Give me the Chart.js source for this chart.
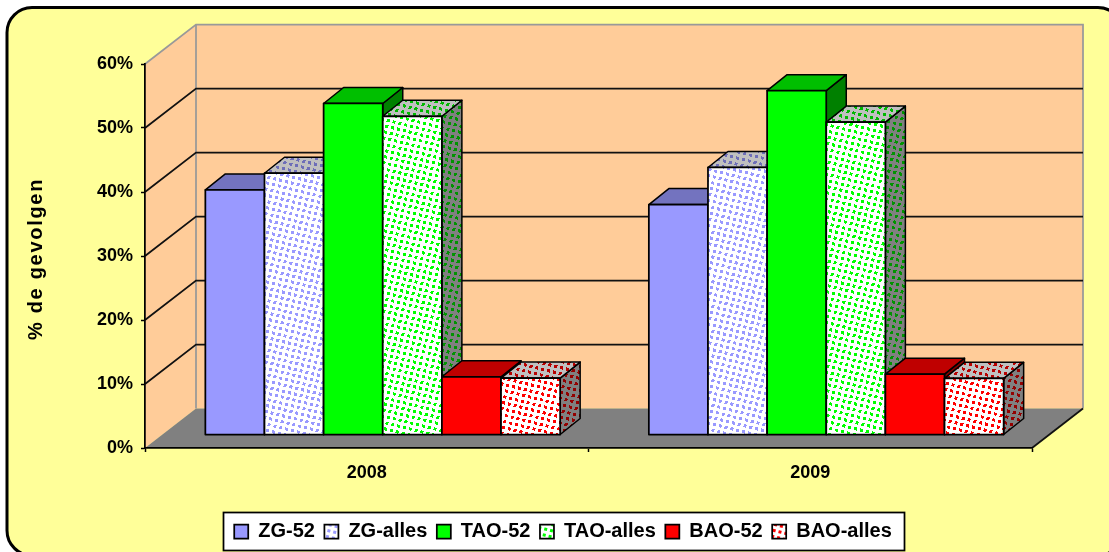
<!DOCTYPE html>
<html>
<head>
<meta charset="utf-8">
<title>% de gevolgen</title>
<style>
html,body{margin:0;padding:0;background:#fff;}
canvas{display:block;filter:blur(0.35px);}
</style>
<script src="https://cdn.jsdelivr.net/npm/chart.js@4"></script>
</head>
<body>
<canvas id="c" width="1109" height="552"></canvas>
<script>
const categories = ['2008', '2009'];
const zg52 = [38.3, 36.0];
const zgAlles = [40.9, 41.8];
const tao52 = [51.8, 53.8];
const taoAlles = [49.8, 48.9];
const bao52 = [9.1, 9.5];
const baoAlles = [8.9, 8.85];
const yMax = 60;
const yStep = 10;

const FONT = "'Liberation Sans', Arial, sans-serif";
const wallD = {x: 51, y: 39.5};   // depth of the walls
const barOff = {x: 16, y: 13};    // bars stand this far behind the front plane
const barD = {x: 20, y: 16};      // depth of a bar

function shade(rgb, f){ return `rgb(${rgb.map(v => Math.round(v * f)).join(',')})`; }
function dots(bg, fg){
  const n = 6;
  const t = document.createElement('canvas');
  t.width = n; t.height = n;
  const g = t.getContext('2d');
  g.fillStyle = bg; g.fillRect(0, 0, n, n);
  g.fillStyle = fg; g.fillRect(2, 2, 3, 3);
  const p = g.createPattern(t, 'repeat');
  p.setTransform(new DOMMatrix().rotate(14));
  return p;
}
function makeStyle(rgb, dotted){
  if (!dotted) return {front: shade(rgb, 1), top: shade(rgb, .75), side: shade(rgb, .5)};
  return {
    front: dots('#fff', shade(rgb, 1)),
    top: dots('#c0c0c0', shade(rgb, .72)),
    side: dots('#808080', shade(rgb, .58))
  };
}
const blue = [153, 153, 255], green = [0, 255, 0], red = [255, 0, 0];
const series = [
  {label: 'ZG-52', data: zg52, s: makeStyle(blue, false)},
  {label: 'ZG-alles', data: zgAlles, s: makeStyle(blue, true)},
  {label: 'TAO-52', data: tao52, s: makeStyle(green, false)},
  {label: 'TAO-alles', data: taoAlles, s: makeStyle(green, true)},
  {label: 'BAO-52', data: bao52, s: makeStyle(red, false)},
  {label: 'BAO-alles', data: baoAlles, s: makeStyle(red, true)}
];

function poly(ctx, pts, fill, stroke, lw){
  ctx.beginPath();
  pts.forEach((p, i) => i ? ctx.lineTo(p[0], p[1]) : ctx.moveTo(p[0], p[1]));
  ctx.closePath();
  if (fill){ ctx.imageSmoothingEnabled = false; ctx.fillStyle = fill; ctx.fill(); }
  if (stroke){ ctx.strokeStyle = stroke; ctx.lineWidth = lw; ctx.lineJoin = 'round'; ctx.stroke(); }
}
function line(ctx, pts, stroke, lw){
  ctx.beginPath();
  pts.forEach((p, i) => i ? ctx.lineTo(p[0], p[1]) : ctx.moveTo(p[0], p[1]));
  ctx.strokeStyle = stroke; ctx.lineWidth = lw; ctx.stroke();
}

const scene = {
  id: 'scene',
  afterLayout(chart){
    const l = chart.legend;
    const dx = 563 - (l.left + l.right) / 2;
    l.left += dx; l.right += dx;
    const dy = 512 - l.top;
    l.top += dy; l.bottom += dy;
    // the axis title is set slightly wider and lower than the library's default
    const ys = chart.scales.y;
    if (!ys._wideTitle){
      const orig = ys.drawTitle;
      ys.drawTitle = function(){
        const c = this.ctx;
        c.save();
        c.letterSpacing = '1.7px';
        c.translate(0, 3);
        orig.call(this);
        c.restore();
      };
      ys._wideTitle = true;
    }
  },
  beforeDraw(chart){
    const ctx = chart.ctx, W = chart.width, H = chart.height;
    const a = chart.chartArea, ys = chart.scales.y;
    ctx.save();
    ctx.fillStyle = '#fff'; ctx.fillRect(0, 0, W, H);
    ctx.beginPath(); ctx.roundRect(7, 7.5, 1116, 548, 25);
    ctx.fillStyle = '#FFFF99'; ctx.fill();
    ctx.strokeStyle = '#000'; ctx.lineWidth = 3; ctx.stroke();

    const L = a.left, R = a.right, T = ys.getPixelForValue(yMax), B = ys.getPixelForValue(0);
    const X = L + wallD.x, Xr = R + wallD.x;
    poly(ctx, [[X, T - wallD.y], [Xr, T - wallD.y], [Xr, B - wallD.y], [X, B - wallD.y]], '#FFCC99');
    poly(ctx, [[L, T], [X, T - wallD.y], [X, B - wallD.y], [L, B]], '#FFCC99');
    poly(ctx, [[L, B], [X, B - wallD.y], [Xr, B - wallD.y], [R, B]], '#808080');
    line(ctx, [[L, T], [X, T - wallD.y], [Xr, T - wallD.y], [Xr, B - wallD.y]], '#999', 1.75);
    line(ctx, [[X, T - wallD.y], [X, B - wallD.y]], '#999', 1.75);
    line(ctx, [[R, B], [Xr, B - wallD.y]], '#111', 1.75);
    ys.ticks.forEach(t => {
      if (t.value <= 0 || t.value >= yMax) return;
      const y = ys.getPixelForValue(t.value);
      line(ctx, [[L, y], [X, y - wallD.y], [Xr, y - wallD.y]], '#111', 1.75);
    });
    ctx.fillStyle = '#fff'; ctx.fillRect(223.5, 512.5, 681, 38);
    ctx.strokeStyle = '#000'; ctx.lineWidth = 1.75; ctx.strokeRect(223.5, 512.5, 681, 38);
    ctx.restore();
  },
  beforeDatasetsDraw(chart){
    chart.ctx.save();
    chart.ctx.translate(barOff.x, -barOff.y);
  },
  afterDatasetsDraw(chart){
    const ctx = chart.ctx;
    // painter's order: left to right, so each bar hides its neighbour's side face
    series.forEach((d, i) => {
      const s = d.s;
      chart.getDatasetMeta(i).data.forEach(el => {
        const {x, y, base, width} = el.getProps(['x', 'y', 'base', 'width'], true);
        const l = x - width / 2, r = x + width / 2;
        poly(ctx, [[r, y], [r + barD.x, y - barD.y], [r + barD.x, base - barD.y], [r, base]], s.side, '#000', 1.5);
        poly(ctx, [[l, y], [l + barD.x, y - barD.y], [r + barD.x, y - barD.y], [r, y]], s.top, '#000', 1.5);
        poly(ctx, [[l, y], [r, y], [r, base], [l, base]], s.front, '#000', 1.75);
      });
    });
    ctx.restore();
  }
};

new Chart(document.getElementById('c'), {
  type: 'bar',
  data: {
    labels: categories,
    datasets: series.map(d => ({
      label: d.label,
      data: d.data,
      backgroundColor: d.s.front,
      borderWidth: 0,
      barPercentage: 1,
      categoryPercentage: 0.8,
      clip: false
    }))
  },
  plugins: [scene],
  options: {
    responsive: false,
    animation: false,
    devicePixelRatio: 1,
    layout: {padding: {left: 0, top: 64, right: 77, bottom: 0}},
    plugins: {
      tooltip: {enabled: false},
      legend: {
        position: 'bottom',
        labels: {
          font: {family: FONT, size: 20, weight: 'bold'},
          color: '#000',
          boxWidth: 14,
          boxHeight: 14,
          padding: 9.5,
          generateLabels(chart){
            return chart.data.datasets.map((d, i) => ({
              text: d.label, fillStyle: d.backgroundColor, strokeStyle: '#000',
              lineWidth: 1.75, datasetIndex: i, hidden: false, fontColor: '#000'
            }));
          }
        }
      }
    },
    scales: {
      x: {
        afterFit(scale){ scale.height = 552 - 448 - scale.chart.legend.height; },
        grid: {drawOnChartArea: false, drawTicks: true, tickLength: 4, tickColor: '#000', tickWidth: 1.5},
        border: {display: true, color: '#000', width: 1.75},
        ticks: {color: '#000', padding: 10, maxRotation: 0, font: {family: FONT, size: 18, weight: 'bold'}}
      },
      y: {
        min: 0, max: yMax,
        afterFit(scale){ scale.width = 145; },
        grid: {drawOnChartArea: false, drawTicks: true, tickLength: 4, tickColor: '#000', tickWidth: 1.5},
        border: {display: true, color: '#000', width: 1.75},
        ticks: {stepSize: yStep, color: '#000', padding: 8, font: {family: FONT, size: 18, weight: 'bold'}, callback: v => v + '%'},
        title: {display: true, text: '% de gevolgen', color: '#000', font: {family: FONT, size: 20, weight: 'bold'}, padding: {top: 24, bottom: 0}}
      }
    }
  }
});
</script>
</body>
</html>
